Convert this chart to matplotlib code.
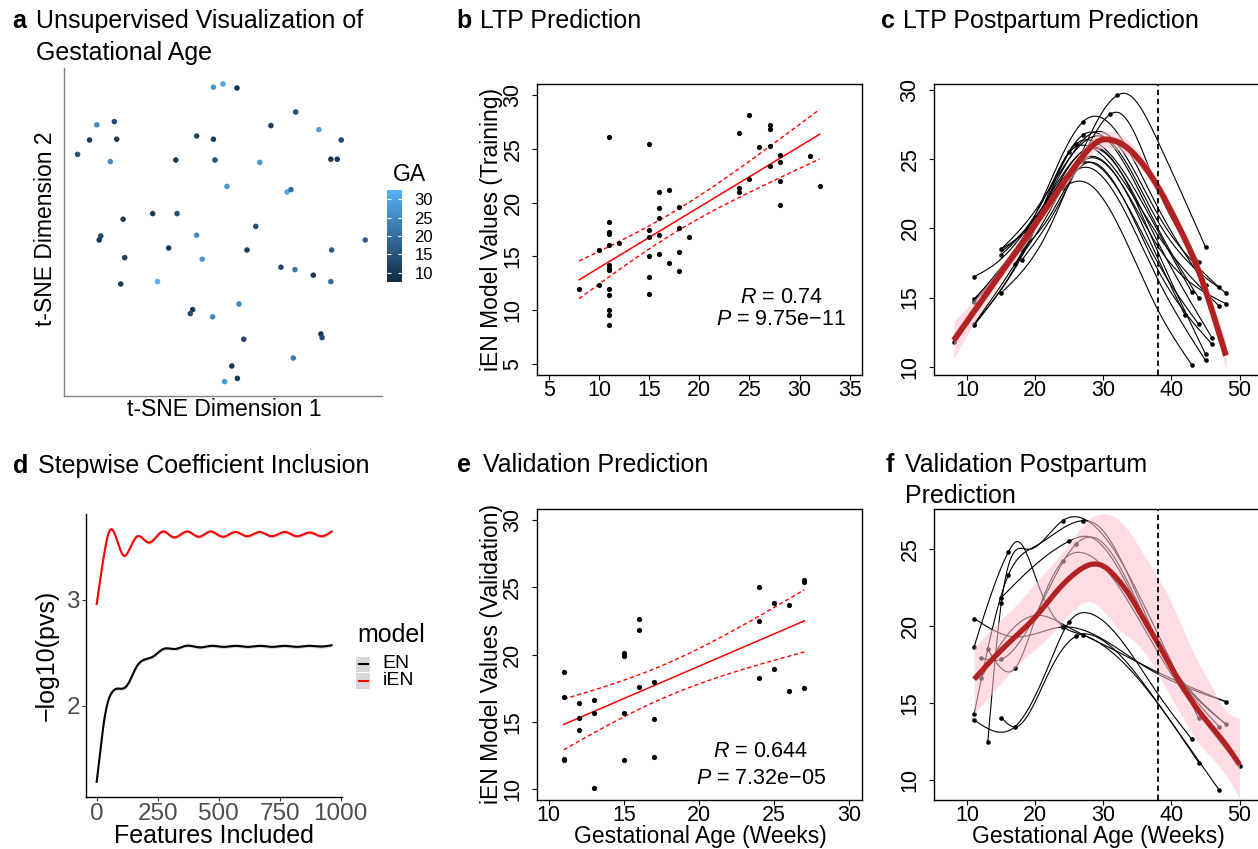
import matplotlib
matplotlib.use("Agg")
import matplotlib.pyplot as plt
import numpy as np
from matplotlib.colors import LinearSegmentedColormap
from matplotlib.patches import Rectangle
from matplotlib.lines import Line2D

plt.rcParams['font.family'] = ['Liberation Sans', 'DejaVu Sans']
plt.rcParams['mathtext.fontset'] = 'custom'
plt.rcParams['mathtext.it'] = 'Liberation Sans:italic'
plt.rcParams['mathtext.rm'] = 'Liberation Sans'

# ---------------- data ----------------
# a: t-SNE embedding, coloured by gestational age
tsne1 = [-1.2, 0.0, 1.75, 9.1, -15.8, -13.6, 6.0, 12.0, -16.7, -13.3, -3.3, -1.2, 14.8, -18.2,
         -14.1, -5.9, -1.0, 4.6, 13.5, 14.3, 0.5, 8.0, 8.5, -12.5, -8.8, -5.75, 4.1, -15.3,
         -15.5, 17.8, -3.3, -6.8, 3.0, 13.6, -12.3, -2.6, 7.25, 9.0, 11.3, -12.8, -8.2, 13.5,
         2.0, -3.8, -4.1, -1.3, 2.6, 12.25, 12.4, 8.8, 1.1, 1.8, 0.2]
tsne2 = [18.1, 18.5, 18.0, 15.0, 13.4, 13.8, 13.3, 12.8, 11.5, 11.6, 12.0, 11.6, 11.5, 9.7,
         8.8, 9.0, 9.0, 8.7, 9.1, 9.1, 5.7, 5.0, 5.3, 1.6, 2.3, 2.3, 0.7, -0.5,
         -1.0, -1.0, -0.4, -2.0, -2.25, -2.25, -3.2, -3.4, -4.4, -4.7, -5.4, -6.5, -6.2, -6.2,
         -9.0, -9.7, -10.2, -10.6, -13.4, -12.75, -13.2, -15.75, -16.75, -18.3, -18.7]
ga = [27, 30, 10, 14, 25, 14, 11, 29, 11, 11, 13, 10, 13, 15,
      25, 10, 14, 28, 10, 10, 28, 31, 20, 11, 11, 14, 14, 13,
      10, 17, 26, 10, 11, 17, 11, 28, 13, 22, 10, 11, 32, 20,
      25, 10, 14, 25, 13, 10, 13, 22, 10, 10, 28]
ga_limits = [7.5, 32.5]
ga_ticks = [10, 15, 20, 25, 30]

# b: training predictions
b_age = [8, 10, 10, 11, 11, 11, 11, 11, 12, 11, 11, 11, 11, 11, 11, 11, 11,
         15, 15, 15, 15, 15, 15, 16, 16, 16, 16, 16, 17, 17, 18, 18, 18, 18, 19,
         24, 24, 24, 25, 25, 26, 27, 27, 27, 27, 28, 28, 28, 28, 31, 32]
b_pred = [12.0, 12.33, 15.6, 26.04, 18.24, 17.31, 17.1, 16.05, 16.23, 14.2, 13.97, 13.7, 11.96,
          11.44, 10.0, 9.55, 8.62,
          25.42, 17.47, 16.79, 15.06, 13.1, 11.5, 20.97, 19.51, 18.58, 16.97, 15.27, 21.18, 14.4,
          19.57, 17.62, 15.4, 13.66, 16.79,
          26.44, 21.34, 21.0, 28.17, 22.23, 25.17, 27.18, 26.81, 25.27, 23.38, 24.37, 23.72,
          21.99, 19.76, 24.34, 21.49]
b_stats = ["$R$ = 0.74", "$P$ = 9.75e\u221211"]

# e: validation predictions
e_age = [11, 11, 11, 11, 12, 12, 12, 13, 13, 13, 15, 15, 15, 15, 16, 16, 16, 17, 17, 17,
         24, 24, 24, 25, 25, 26, 26, 27, 27, 27]
e_pred = [18.71, 16.81, 12.25, 12.15, 16.39, 15.32, 14.43, 16.61, 15.67, 10.07, 20.12, 19.9,
          15.64, 12.15, 22.67, 21.83, 17.57, 17.97, 15.2, 12.4,
          25.02, 22.52, 18.29, 23.84, 18.89, 23.69, 17.3, 25.5, 25.4, 17.52]
e_stats = ["$R$ = 0.644", "$P$ = 7.32e\u221205"]

# c: individual trajectories (knots), observed samples and group mean with band
c_curves_x = [[15, 21, 26, 32, 33.2, 38, 45],
              [18, 22, 27, 31, 32.3, 38, 44],
              [11, 20, 27, 29, 38, 45],
              [11, 20, 29.5, 38, 47],
              [15, 20, 30, 38, 48],
              [11, 20, 26, 28.5, 38, 43],
              [15, 20, 27, 29, 38, 44],
              [11, 20, 25, 28, 38, 47],
              [17, 21, 27, 28.5, 38, 48],
              [8, 14, 20, 28, 38, 42],
              [11, 20, 27.5, 38, 44],
              [15, 20, 28, 38, 46],
              [18, 22, 27, 38, 46],
              [11, 20, 28.5, 38, 45],
              [15, 20, 27, 38, 45],
              [11, 15, 24, 27.5, 38, 43]]
c_curves_y = [[15.35, 19.0, 24.5, 29.6, 29.75, 26.3, 18.65],
              [17.7, 20.5, 25.2, 28.24, 28.35, 22.8, 17.56],
              [14.9, 21.0, 27.7, 28.1, 21.5, 15.92],
              [14.7, 20.5, 27.0, 21.0, 15.73],
              [18.5, 21.3, 26.6, 20.5, 15.34],
              [13.1, 20.0, 26.1, 26.3, 19.8, 15.37],
              [18.1, 21.0, 26.75, 26.9, 20.0, 14.96],
              [13.0, 20.2, 25.5, 25.9, 19.5, 14.38],
              [17.4, 20.3, 24.87, 25.1, 18.7, 14.55],
              [11.8, 16.0, 20.0, 25.2, 17.8, 13.71],
              [14.8, 20.6, 24.8, 17.5, 13.06],
              [18.3, 20.8, 25.8, 19.0, 12.05],
              [18.43, 20.8, 24.6, 17.0, 11.61],
              [13.1, 20.0, 25.9, 18.3, 10.91],
              [18.5, 20.5, 24.4, 16.3, 10.46],
              [16.5, 17.8, 22.9, 23.3, 14.1, 10.12]]
c_obs_x = [8, 11, 11, 11, 11, 11, 15, 15, 15, 17, 18, 18,
           24, 25, 26, 27, 27, 27, 31, 32,
           45, 44, 45, 47, 48, 43, 44, 47, 48, 42, 44, 46, 46, 45, 45, 43]
c_obs_y = [11.8, 16.5, 14.9, 14.7, 13.1, 13.0, 18.5, 18.1, 15.35, 17.4, 17.7, 18.43,
           22.9, 25.5, 26.1, 27.7, 26.75, 24.87, 28.24, 29.6,
           18.65, 17.56, 15.92, 15.73, 15.34, 15.37, 14.96, 14.38, 14.55, 13.71, 13.06, 12.05,
           11.61, 10.91, 10.46, 10.12]
c_mean_x = [8, 12, 16, 20, 24, 26, 28, 29.5, 31, 33, 35, 38, 41, 44, 46, 48]
c_mean_y = [11.9, 14.7, 17.5, 20.3, 23.2, 24.6, 25.8, 26.35, 26.4, 26.0, 25.1, 23.0, 20.2, 16.9, 14.0, 10.8]
c_low = [10.6, 14.0, 17.0, 19.85, 22.75, 24.1, 25.25, 25.75, 25.8, 25.45, 24.6, 22.5, 19.7, 16.3, 13.3, 9.8]
c_high = [13.3, 15.4, 18.0, 20.75, 23.65, 25.1, 26.35, 26.95, 27.0, 26.6, 25.6, 23.5, 20.7, 17.5, 14.7, 11.8]
delivery_week = 38

# d: stepwise coefficient inclusion
d_ien_x = [0, 27, 55, 82, 112, 139, 167, 212, 273, 314, 372, 417, 467, 516, 568, 617, 667,
           717, 772, 820, 874, 922, 963]
d_ien_y = [2.96, 3.38, 3.66, 3.57, 3.415, 3.50, 3.60, 3.54, 3.645, 3.59, 3.645, 3.595, 3.645,
           3.595, 3.64, 3.60, 3.64, 3.60, 3.64, 3.60, 3.635, 3.60, 3.645]
d_en_x = [0, 14, 27, 41, 61, 82, 112, 130, 164, 191, 232, 273, 321, 369, 423, 470, 520, 570,
          620, 670, 720, 770, 820, 870, 920, 963]
d_en_y = [1.28, 1.55, 1.80, 1.99, 2.12, 2.16, 2.165, 2.21, 2.37, 2.43, 2.465, 2.535, 2.535,
          2.566, 2.55, 2.565, 2.555, 2.565, 2.555, 2.565, 2.555, 2.565, 2.555, 2.565, 2.558, 2.57]
d_models = ["EN", "iEN"]

# f: validation trajectories
f_curves_x = [[11, 17, 24, 36, 48],
              [11, 16, 17.3, 20.5, 24, 27, 33, 44],
              [11, 17, 22, 25, 27.8, 38, 43],
              [15, 17, 22, 26, 29, 38, 47],
              [13, 15, 19, 24, 27, 30, 38, 44],
              [11, 16, 20, 27, 29, 38, 47],
              [15, 20, 25, 28, 38, 48],
              [13, 17, 20, 24, 27.5, 38, 50],
              [12, 15, 20, 26, 29, 38, 48],
              [12, 15, 20, 25, 30, 38, 48]]
f_curves_y = [[20.5, 19.3, 19.95, 17.4, 15.09],
              [18.67, 24.8, 25.5, 22.6, 20.0, 19.43, 17.6, 11.13],
              [13.9, 13.47, 17.5, 20.3, 20.85, 15.6, 12.64],
              [14.05, 13.45, 17.0, 19.36, 19.3, 15.0, 9.35],
              [12.45, 21.53, 25.0, 26.86, 27.0, 25.9, 19.5, 14.0],
              [14.29, 23.3, 25.2, 26.86, 26.6, 19.0, 13.47],
              [21.86, 24.0, 25.54, 25.8, 18.8, 13.62],
              [18.5, 17.26, 20.5, 24.24, 24.7, 18.3, 10.9],
              [17.95, 17.85, 20.7, 25.35, 25.7, 18.8, 13.62],
              [16.6, 18.9, 20.7, 19.9, 18.8, 17.0, 15.09]]
f_obs_x = [11, 11, 11, 11, 13, 16, 16, 15, 15, 15, 17, 17, 12, 13, 15, 12,
           24, 27, 25, 26, 24, 25, 26, 27, 24,
           48, 43, 44, 47, 44, 47, 48, 50]
f_obs_y = [20.5, 18.67, 14.29, 13.9, 12.45, 24.8, 23.3, 21.86, 21.53, 14.05, 17.26, 13.47,
           17.95, 18.5, 17.85, 16.6,
           26.86, 26.86, 25.54, 25.35, 19.95, 20.3, 19.36, 19.43, 24.24,
           15.09, 12.64, 11.13, 9.35, 14.0, 13.47, 13.62, 10.9]
f_mean_x = [11, 14, 17, 20, 23, 26, 28, 30, 32, 34, 36, 38, 40, 42, 44, 46, 48, 50]
f_mean_y = [16.55, 18.0, 19.3, 20.6, 22.2, 23.5, 24.0, 23.9, 23.1, 21.9, 20.4, 18.9, 17.3, 15.8,
            14.5, 13.4, 12.3, 11.0]
f_high = [18.6, 20.0, 21.3, 22.8, 24.3, 26.0, 27.0, 27.3, 27.0, 26.0, 24.6, 23.2, 21.5, 19.5,
          17.6, 16.0, 14.5, 14.0]
f_low = [14.3, 15.8, 17.3, 18.5, 19.8, 21.2, 21.6, 21.0, 19.9, 19.2, 18.3, 16.9, 15.3, 13.8,
         12.4, 11.4, 10.3, 8.8]


# ---------------- helpers ----------------
W, H = 1258, 849
fig = plt.figure(figsize=(W / 100, H / 100), dpi=100)


def add_ax(l, t, r, b):
    return fig.add_axes([l / W, 1 - b / H, (r - l) / W, (b - t) / H])


def ftext(x, y, s, **kw):
    return fig.text(x / W, 1 - y / H, s, **kw)


def nspline(xk, yk, n=300):
    xk = np.asarray(xk, float)
    yk = np.asarray(yk, float)
    m = len(xk)
    h = np.diff(xk)
    A = np.zeros((m, m))
    r = np.zeros(m)
    A[0, 0] = A[-1, -1] = 1
    for i in range(1, m - 1):
        A[i, i - 1] = h[i - 1]
        A[i, i] = 2 * (h[i - 1] + h[i])
        A[i, i + 1] = h[i]
        r[i] = 3 * ((yk[i + 1] - yk[i]) / h[i] - (yk[i] - yk[i - 1]) / h[i - 1])
    c = np.linalg.solve(A, r)
    bb = (yk[1:] - yk[:-1]) / h - h * (2 * c[:-1] + c[1:]) / 3
    d = (c[1:] - c[:-1]) / (3 * h)
    xs = np.linspace(xk[0], xk[-1], n)
    idx = np.clip(np.searchsorted(xk, xs, side='right') - 1, 0, m - 2)
    t = xs - xk[idx]
    return xs, yk[idx] + bb[idx] * t + c[idx] * t ** 2 + d[idx] * t ** 3


def rbase(ax, xlim, ylim, xticks, yticks):
    ax.set_xlim(*xlim)
    ax.set_ylim(*ylim)
    ax.set_xticks(xticks)
    ax.set_yticks(yticks)
    for s in ax.spines.values():
        s.set_linewidth(1.0)
    ax.tick_params(axis='both', length=3.6, width=0.8, labelsize=15.5)
    ax.tick_params(axis='x', pad=0)
    ax.tick_params(axis='y', pad=6)
    for lab in ax.get_yticklabels():
        lab.set_rotation(90)
        lab.set_va('center')


def regression(ax, x, y):
    x = np.asarray(x, float)
    y = np.asarray(y, float)
    n = len(x)
    k, q = np.polyfit(x, y, 1)
    res = y - (k * x + q)
    sd = np.sqrt(np.sum(res ** 2) / (n - 2))
    xs = np.linspace(x.min(), x.max(), 100)
    tq = 1.96 + 2.4 / (n - 2)
    se = sd * np.sqrt(1 / n + (xs - x.mean()) ** 2 / np.sum((x - x.mean()) ** 2))
    yf = k * xs + q
    ax.scatter(x, y, s=14, color='black', zorder=3, linewidths=0)
    ax.plot(xs, yf, color='red', lw=1.1)
    ax.plot(xs, yf + tq * se, color='red', lw=1.0, ls=(0, (3, 2)))
    ax.plot(xs, yf - tq * se, color='red', lw=1.0, ls=(0, (3, 2)))


def trajectories(ax, cx, cy, ox, oy, mx, my, lo, hi, lw_mean):
    for xk, yk in zip(cx, cy):
        xs, ys = nspline(xk, yk)
        ax.plot(xs, ys, color='black', lw=0.8, zorder=2)
    ax.scatter(ox, oy, s=11, color='black', zorder=3, linewidths=0)
    bx, blo = nspline(mx, lo)
    _, bhi = nspline(mx, hi)
    ax.fill_between(bx, blo, bhi, color='pink', alpha=0.55, lw=0, zorder=4)
    xs, ys = nspline(mx, my)
    ax.plot(xs, ys, color='#B22222', lw=lw_mean, zorder=5, solid_capstyle='butt')
    ax.axvline(delivery_week, color='black', lw=1.3, ls=(0, (3, 2)), zorder=6)


title_kw = dict(fontsize=18, va='baseline', ha='left')
bold_kw = dict(fontsize=18, va='baseline', ha='left', fontweight='bold')

# ---------------- a ----------------
axa = add_ax(64, 68, 382, 396)
cmap = LinearSegmentedColormap.from_list('ga', ['#132B43', '#56B1F7'])
sc = axa.scatter(tsne1, tsne2, c=ga, cmap=cmap, vmin=ga_limits[0], vmax=ga_limits[1],
                 s=16, linewidths=0)
axa.set_xlim(-19.9, 19.9)
axa.set_ylim(-20.5, 20.5)
axa.set_xticks([])
axa.set_yticks([])
for s in ['top', 'right']:
    axa.spines[s].set_visible(False)
for s in ['left', 'bottom']:
    axa.spines[s].set_color('#808080')
    axa.spines[s].set_linewidth(1.0)
ftext(224, 409, 't-SNE Dimension 1', fontsize=16.5, ha='center', va='center')
ftext(46, 229, 't-SNE Dimension 2', fontsize=16.5, ha='center', va='center', rotation=90)
cax = add_ax(387, 190, 402, 282)
cb = fig.colorbar(sc, cax=cax, ticks=ga_ticks)
cb.outline.set_visible(False)
cax.tick_params(length=3, width=0.8, color='white', direction='in', labelsize=12, pad=9,
                left=True, right=True)
ftext(393, 181, 'GA', fontsize=16.5, ha='left', va='baseline')
ftext(12.7, 28.3, 'a', **bold_kw)
ftext(36, 28.3, 'Unsupervised Visualization of', **title_kw)
ftext(36, 60, 'Gestational Age', **title_kw)

# ---------------- b ----------------
axb = add_ax(537, 84, 861.7, 375)
regression(axb, b_age, b_pred)
rbase(axb, (3.8, 36.2), (4, 31), [5, 10, 15, 20, 25, 30, 35], [5, 10, 15, 20, 25, 30])
axb.text(0.752, 0.265, b_stats[0], transform=axb.transAxes, fontsize=15.5, ha='center', va='center')
axb.text(0.752, 0.19, b_stats[1], transform=axb.transAxes, fontsize=15.5, ha='center', va='center')
ftext(491.7, 230, 'iEN Model Values (Training)', fontsize=16.5, ha='center', va='center', rotation=90)
ftext(456, 28.5, 'b', **bold_kw)
ftext(480, 28.5, 'LTP Prediction', **title_kw)

# ---------------- c ----------------
axc = add_ax(934, 84, 1262, 375)
trajectories(axc, c_curves_x, c_curves_y, c_obs_x, c_obs_y, c_mean_x, c_mean_y, c_low, c_high, 4.2)
rbase(axc, (5.1, 53.3), (9.4, 30.43), [10, 20, 30, 40, 50], [10, 15, 20, 25, 30])
ftext(880.7, 28, 'c', **bold_kw)
ftext(903.3, 28, 'LTP Postpartum Prediction', **title_kw)

# ---------------- d ----------------
axd = add_ax(85.7, 514, 342.3, 796.7)
for xk, yk, col in [(d_en_x, d_en_y, 'black'), (d_ien_x, d_ien_y, 'red')]:
    xs, ys = nspline(xk, yk)
    axd.fill_between(xs, ys - 0.015, ys + 0.015, color='#bfbfbf', alpha=0.6, lw=0)
    axd.plot(xs, ys, color=col, lw=1.5)
axd.set_xlim(-45, 1007)
axd.set_ylim(1.14, 3.81)
axd.set_xticks([0, 250, 500, 750, 1000])
axd.set_yticks([2, 3])
for s in ['top', 'right']:
    axd.spines[s].set_visible(False)
for s in ['left', 'bottom']:
    axd.spines[s].set_linewidth(1.0)
axd.tick_params(length=2.75, width=0.8, color='#333333', labelcolor='#4D4D4D', labelsize=17.5, pad=1.5)
ftext(214, 843, 'Features Included', fontsize=18, ha='center', va='baseline')
ftext(46.7, 655.7, '\u2212log10(pvs)', fontsize=18, ha='center', va='center', rotation=90)
ftext(357, 641.7, 'model', fontsize=18, ha='left', va='baseline')
for i, (name, col) in enumerate(zip(d_models, ['black', 'red'])):
    top = 656 + i * 16.5
    fig.add_artist(Rectangle((356 / W, 1 - (top + 16) / H), 14 / W, 15.5 / H,
                             transform=fig.transFigure, facecolor='#d9d9d9', edgecolor='none'))
    yy = 1 - (top + 8) / H
    fig.add_artist(Line2D([358.5 / W, 368 / W], [yy, yy], transform=fig.transFigure,
                          color=col, lw=1.5))
    ftext(382.7, top + 8, name, fontsize=14, ha='left', va='center')
ftext(12.7, 472.7, 'd', **bold_kw)
ftext(38.3, 472.7, 'Stepwise Coefficient Inclusion', **title_kw)

# ---------------- e ----------------
axe = add_ax(536.7, 509, 861.5, 800)
regression(axe, e_age, e_pred)
rbase(axe, (9.2, 30.8), (9.2, 30.8), [10, 15, 20, 25, 30], [10, 15, 20, 25, 30])
axe.text(0.69, 0.165, e_stats[0], transform=axe.transAxes, fontsize=15.5, ha='center', va='center')
axe.text(0.69, 0.075, e_stats[1], transform=axe.transAxes, fontsize=15.5, ha='center', va='center')
ftext(491.7, 654, 'iEN Model Values (Validation)', fontsize=16.5, ha='center', va='center', rotation=90)
ftext(700, 843, 'Gestational Age (Weeks)', fontsize=16.5, ha='center', va='baseline')
ftext(456.7, 471.7, 'e', **bold_kw)
ftext(483.3, 471.7, 'Validation Prediction', **title_kw)

# ---------------- f ----------------
axf = add_ax(934, 509, 1262, 800)
trajectories(axf, f_curves_x, f_curves_y, f_obs_x, f_obs_y, f_mean_x, f_mean_y, f_low, f_high, 3.8)
rbase(axf, (5.1, 53.3), (8.7, 27.62), [10, 20, 30, 40, 50], [10, 15, 20, 25])
ftext(1098, 843, 'Gestational Age (Weeks)', fontsize=16.5, ha='center', va='baseline')
ftext(886, 471.7, 'f', **bold_kw)
ftext(905, 471.7, 'Validation Postpartum', **title_kw)
ftext(905, 503.3, 'Prediction', **title_kw)

fig.savefig('out.png', dpi=100)
